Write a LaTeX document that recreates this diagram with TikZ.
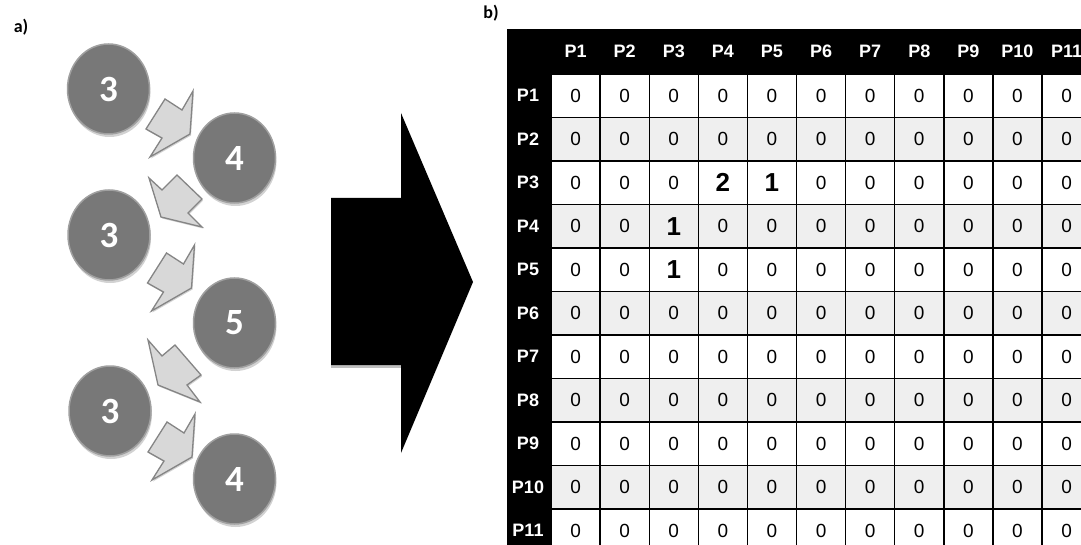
\documentclass[tikz,border=0pt]{standalone}
\usepackage{fontspec}
\setmainfont{Liberation Sans}
\newfontfamily\calib{Carlito}
\usetikzlibrary{shapes.geometric,shadows}
\definecolor{circfill}{HTML}{787878}
\definecolor{circedge}{HTML}{A0A0A0}
\definecolor{circshadow}{HTML}{D2D2D2}
\definecolor{arrfill}{HTML}{D8D8D8}
\definecolor{arredge}{HTML}{858585}
\definecolor{rowgray}{HTML}{EFEFEF}
\tikzset{
  numcirc/.style={ellipse, minimum width=82pt, minimum height=90pt, inner sep=0pt,
    fill=circfill, draw=circedge, line width=1.5pt, text=white,
    font=\calib\bfseries\fontsize{37}{37}\selectfont,
    drop shadow={shadow xshift=1pt, shadow yshift=-3pt, fill=circshadow, opacity=1}},
  arrowshape/.style={fill=arrfill, draw=arredge, line width=1.3pt, line join=miter,
    drop shadow={shadow xshift=1pt, shadow yshift=-1.5pt, fill=circshadow, opacity=1}},
  panel/.style={font=\calib\bfseries\fontsize{18}{18}\selectfont, inner sep=0pt},
  hdr/.style={text=white, font=\bfseries\fontsize{18}{18}\selectfont, inner sep=0pt},
  cell/.style={rectangle, minimum width=49.1pt, minimum height=43.5pt, inner sep=0pt,
    draw=black, line width=1.4pt, text=black, font=\fontsize{19}{19}\selectfont},
}
\newcommand\bigval[1]{{\bfseries\fontsize{26}{26}\selectfont #1}}
\begin{document}
\begin{tikzpicture}[x=1pt,y=-1pt]
\useasboundingbox (0,0) rectangle (1081,545);
\fill[white] (0,0) rectangle (1081,545);

% panel labels
\node[panel] (la) at (21,27) {a)};
\node[panel] (lb) at (491,13) {b)};

% circles
\node[numcirc] (c1) at (108.5,89) {3};
\node[numcirc] (c2) at (234.5,158) {4};
\node[numcirc] (c3) at (109,235) {3};
\node[numcirc] (c4) at (234.5,323) {5};
\node[numcirc] (c5) at (110,411) {3};
\node[numcirc] (c6) at (234.5,479) {4};

% block arrows between circles
\draw[arrowshape] (146,129) -- (165,99) -- (182,110) -- (193,91) -- (190,134) -- (150,157) -- (162,138) -- cycle;
\draw[arrowshape] (149,178) -- (162,190) -- (177,175) -- (202,199) -- (188,213) -- (202,227) -- (161,217) -- cycle;
\begin{scope}[shift={(1.5,154)}]
\draw[arrowshape] (146,129) -- (165,99) -- (182,110) -- (193,91) -- (190,134) -- (150,157) -- (162,138) -- cycle;
\end{scope}
\draw[arrowshape] (148,340) -- (162,356) -- (175,345) -- (201,375) -- (187,385) -- (200,402) -- (158,385) -- cycle;
\begin{scope}[shift={(2,323)}]
\draw[arrowshape] (146,129) -- (165,99) -- (182,110) -- (193,91) -- (190,134) -- (150,157) -- (162,138) -- cycle;
\end{scope}

% big arrow
\fill[black!25] (331,365) rectangle (401,367.5);
\fill[black] (331,198) -- (401,198) -- (401,113) -- (473,282) -- (401,453) -- (401,365) -- (331,365) -- cycle;

% table
\fill[black] (507,29) rectangle (1100,560);
\foreach \j in {1,...,11}{
  \node[hdr] (h\j) at ({551+49.1*(\j-0.5)},51.5) {P\j};
}
\foreach \i in {1,...,11}{
  \node[hdr] (r\i) at (528,{74+43.5*(\i-0.5)}) {P\i};
}
\foreach \i in {1,...,11}{
  \foreach \j in {1,...,11}{
    \pgfmathtruncatemacro{\key}{\i*100+\j}
    \ifnum\key=304 \def\val{\bigval{2}}%
    \else\ifnum\key=305 \def\val{\bigval{1}}%
    \else\ifnum\key=403 \def\val{\bigval{1}}%
    \else\ifnum\key=503 \def\val{\bigval{1}}%
    \else \def\val{0}\fi\fi\fi\fi
    \ifodd\i\relax \def\cfill{white}\else \def\cfill{rowgray}\fi
    \node[cell, fill=\cfill] (m\i-\j) at ({551+49.1*(\j-0.5)},{74+43.5*(\i-0.5)}) {\val};
  }
}
\end{tikzpicture}
\end{document}
